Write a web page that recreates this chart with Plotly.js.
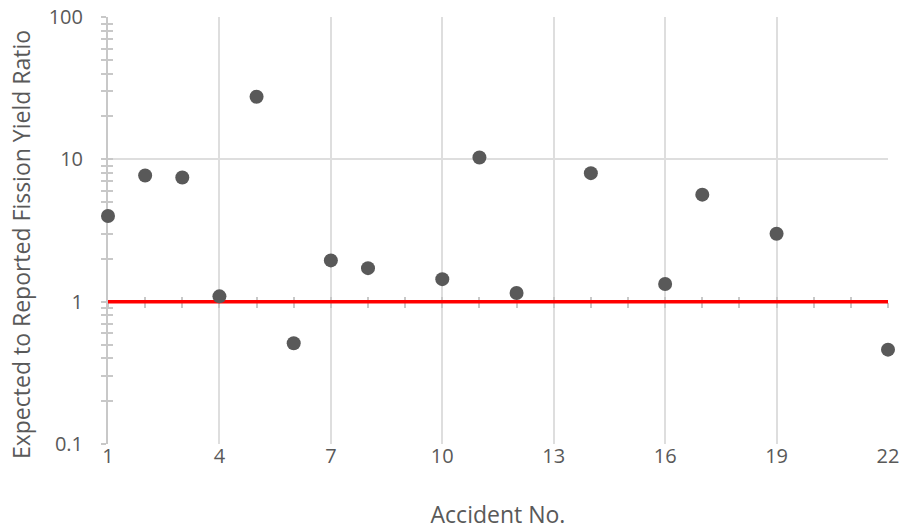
<!DOCTYPE html>
<html>
<head>
<meta charset="utf-8">
<script src="https://cdn.plot.ly/plotly-3.0.1.min.js"></script>
<style>html,body{margin:0;padding:0;background:#fff;}#chart{width:905px;height:531px;}</style>
</head>
<body>
<div id="chart"></div>
<script>
const accidentNo = [1, 2, 3, 4, 5, 6, 7, 8, 10, 11, 12, 14, 16, 17, 19, 22];
const yieldRatio = [4.0, 7.7, 7.45, 1.09, 27.5, 0.51, 1.95, 1.72, 1.44, 10.3, 1.15, 8.0, 1.33, 5.65, 3.0, 0.46];
const refX = [1, 22];
const refY = [1, 1];
const xTickVals = [1, 4, 7, 10, 13, 16, 19, 22];
const yTickVals = [0.1, 1, 10, 100];
const yTickText = ['0.1', '1', '10', '100'];

const font = '"Open Sans", sans-serif';
const txt = '#595959';
const axisGray = '#c8c8c8';
const gridGray = '#dedede';

const traces = [
  {x: [null], y: [null], xaxis: 'x3', yaxis: 'y2', hoverinfo: 'skip', showlegend: false},
  {x: [null], y: [null], xaxis: 'x2', yaxis: 'y', hoverinfo: 'skip', showlegend: false},
  {x: refX, y: refY, mode: 'lines', line: {color: '#ff0000', width: 3.5}, hoverinfo: 'skip', xaxis: 'x', yaxis: 'y', cliponaxis: false},
  {x: accidentNo, y: yieldRatio, mode: 'markers', marker: {color: '#595959', size: 14}, xaxis: 'x', yaxis: 'y', cliponaxis: false}
];

const layout = {
  width: 905, height: 531,
  margin: {l: 108, r: 17, t: 17, b: 87},
  paper_bgcolor: '#fff', plot_bgcolor: '#fff',
  showlegend: false,
  font: {family: font, color: txt, size: 20},
  xaxis: {
    range: [1, 22], tickvals: xTickVals, ticktext: xTickVals.map(String),
    showgrid: true, gridcolor: gridGray, gridwidth: 2,
    zeroline: false, showline: false, ticks: '', layer: 'below traces',
    tickfont: {size: 20, color: txt}, ticklabelstandoff: -2,
    title: {text: 'Accident No.', font: {size: 23, color: txt}, standoff: 38}
  },
  xaxis2: {
    overlaying: 'x', anchor: 'free', position: 1/3, side: 'bottom', layer: 'below traces',
    range: [1, 22], tick0: 1, dtick: 1, ticks: 'outside', ticklen: 5, tickcolor: axisGray, tickwidth: 2,
    showticklabels: false, showgrid: false, zeroline: false, showline: false
  },
  xaxis3: {
    overlaying: 'x', anchor: 'free', position: 1/3, side: 'bottom', layer: 'below traces',
    range: [1, 22], tick0: 1, dtick: 1, ticks: 'inside', ticklen: 5, tickcolor: axisGray, tickwidth: 2,
    showticklabels: false, showgrid: false, zeroline: false, showline: false
  },
  yaxis: {
    type: 'log', range: [-1, 2], tickvals: yTickVals, ticktext: yTickText, layer: 'below traces',
    showgrid: true, gridcolor: gridGray, gridwidth: 2,
    showline: true, linecolor: axisGray, linewidth: 2,
    ticks: 'outside', ticklen: 5, tickcolor: axisGray, tickwidth: 2,
    minor: {dtick: 'D1', ticks: 'outside', ticklen: 5, tickcolor: axisGray, tickwidth: 2, showgrid: false},
    zeroline: false, tickfont: {size: 20, color: txt}, ticklabelstandoff: 14
  },
  yaxis2: {
    overlaying: 'y', anchor: 'x', side: 'left', layer: 'below traces',
    type: 'log', range: [-1, 2], tickvals: yTickVals,
    showgrid: false, showline: false, showticklabels: false, zeroline: false,
    ticks: 'inside', ticklen: 5, tickcolor: axisGray, tickwidth: 2,
    minor: {dtick: 'D1', ticks: 'inside', ticklen: 5, tickcolor: axisGray, tickwidth: 2, showgrid: false}
  },
  annotations: [{
    text: 'Expected to Reported Fission Yield Ratio', textangle: -90,
    xref: 'paper', yref: 'paper', x: -0.1115, y: 0.466, xanchor: 'center', yanchor: 'middle',
    showarrow: false, font: {family: font, size: 23, color: txt}
  }]
};

Plotly.newPlot('chart', traces, layout, {staticPlot: true});
</script>
</body>
</html>
